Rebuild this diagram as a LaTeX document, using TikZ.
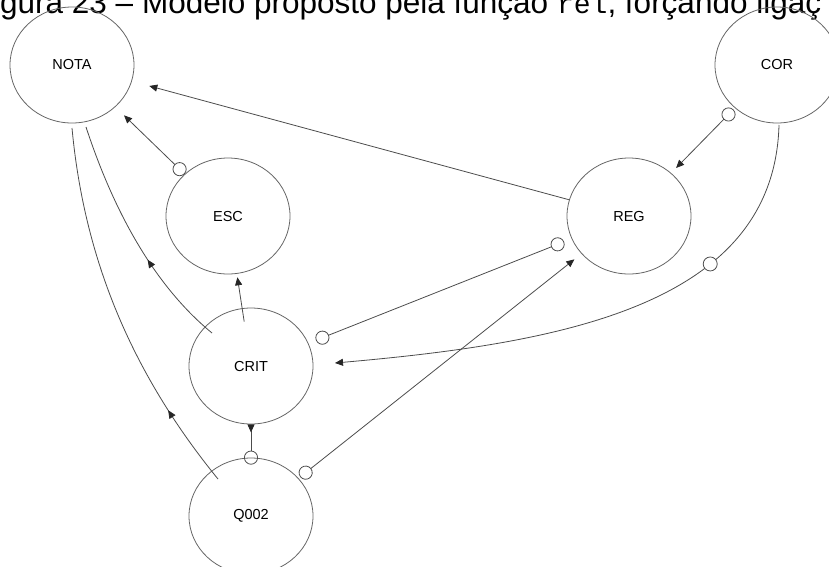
\documentclass[tikz,border=0pt]{standalone}
\usepackage{fontspec}
\setmainfont{Liberation Sans}
\setmonofont{Liberation Mono}
\usetikzlibrary{arrows.meta, decorations.markings, shapes.geometric}
\newcommand{\labelfont}{\fontsize{14.5}{16}\selectfont}
\newcommand{\captionfont}{\fontsize{31.5}{36}\selectfont}
\tikzset{
    var/.style = {
      ellipse, draw=black!60, line width=0.8pt, inner sep=0,
      minimum width=124pt, minimum height=116pt, font=\labelfont,
    },
    link/.style = {
      line width=0.8pt, draw=black!70,
      arrows={-Triangle[length=8pt, width=7pt, black!85]},
    },
    olink/.style = {link, arrows={Circle[open, length=14pt, width=14pt]-Triangle[length=8pt, width=7pt, black!85]}},
    oolink/.style = {link, arrows={Circle[open, length=14pt, width=14pt]-Circle[open, length=14pt, width=14pt]}},
    plain link/.style = {line width=0.8pt, draw=black!70},
    mid arrow/.style = {postaction={decorate, decoration={markings,
      mark=at position #1 with {\arrow[black!85]{Triangle[length=8pt, width=7pt]}}}}},
    mid dot/.style = {postaction={decorate, decoration={markings,
      mark=at position #1 with {\node [circle, draw=black!70, fill=white, line width=0.8pt,
                                       minimum size=14pt, inner sep=0] {};}}}},
}

\begin{document}
\begin{tikzpicture}[x=1pt, y=-1pt]
    \useasboundingbox (0,0) rectangle (829,566);

    %% Caption line, cut off at the top of the page
    \node [anchor=base west, inner sep=0, font=\captionfont] (caption) at (0,13)
      {gura 23 – Modelo proposto pela função {\fontsize{28}{32}\ttfamily rel}, forçando ligaç};

    %% The variables
    \node [var] (NOTA) at (72,65) {NOTA};
    \node [var] (COR) at (777,65) {COR};
    \node [var] (ESC) at (228,216) {ESC};
    \node [var] (REG) at (629,216) {REG};
    \node [var] (CRIT) at (251,366) {CRIT};
    \node [var] (Q002) at (251,516) {Q002};

    %% Straight connections
    \draw [link, shorten >=18pt] (REG) -- (NOTA);
    \draw [olink, shorten >=12pt] (ESC) -- (NOTA);
    \draw [olink, shorten <=2pt, shorten >=7pt] (COR) -- (REG);
    \draw [oolink, shorten <=8pt, shorten >=8pt] (REG) -- (CRIT);
    \draw [olink, shorten <=2pt, shorten >=9pt] (Q002) -- (REG);
    \draw [link, shorten <=45pt, shorten >=62pt] (CRIT.center) -- (ESC.center);
    \draw [link, shorten <=-7pt,
           arrows={Circle[open, length=14pt, width=14pt]-Triangle[reversed, length=8pt, width=7pt, black!85]}]
      (Q002.north) -- (CRIT.south);

    %% Curved connections
    \draw [plain link, mid arrow=0.4]
      ([shift={(-39,-33)}]CRIT.center) .. controls +(-62,-51) and +(25,76)
      .. ([shift={(14,62)}]NOTA.center);
    \draw [plain link, mid arrow=0.22]
      ([shift={(-33,-37)}]Q002.center) .. controls +(-88,-108) and +(12,129)
      .. ([shift={(0,63)}]NOTA.center);
    \draw [link, mid dot=0.29]
      ([shift={(2,60)}]COR.center) .. controls +(-5,180) and +(228,-20)
      .. ([shift={(84,-3)}]CRIT.center);
\end{tikzpicture}
\end{document}
